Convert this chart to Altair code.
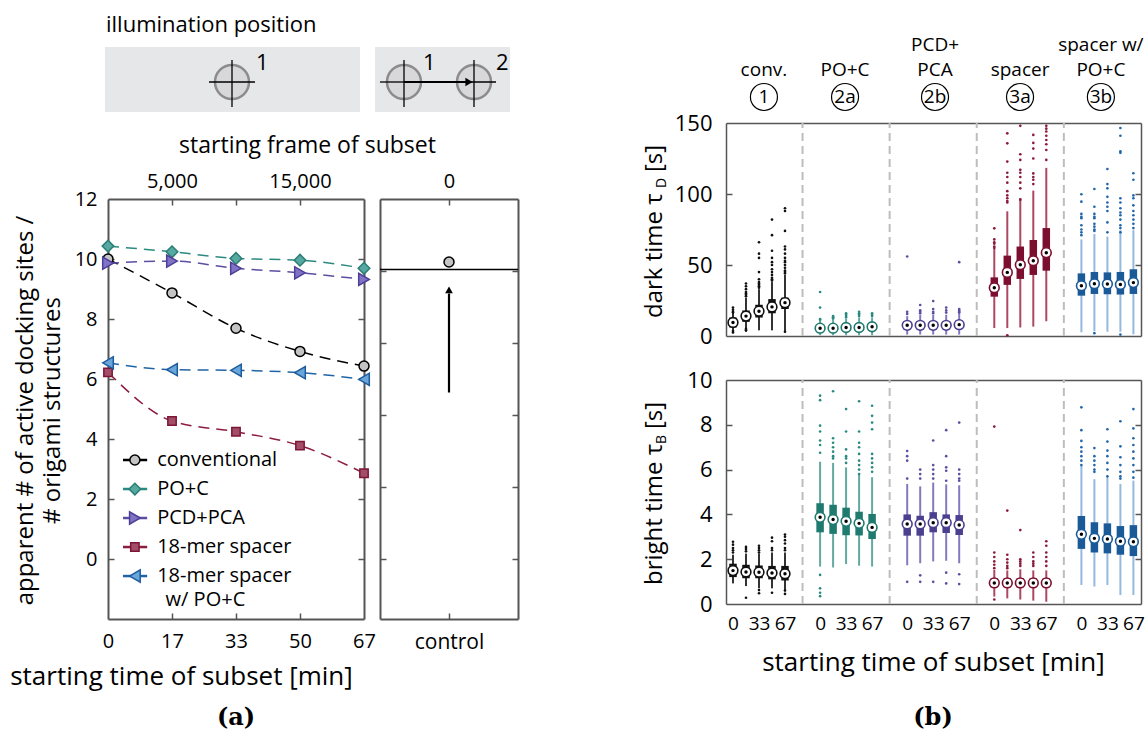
import altair as alt
import pandas as pd

W, H = 1148, 749
FONT = "Open Sans"
AXC = "#555555"

# ---------------- panel (a) data ----------------
minutes = [0, 16.67, 33.33, 50, 66.67]
minute_labels = ["0", "17", "33", "50", "67"]
frame_minutes = [16.67, 50]
frame_labels = ["5,000", "15,000"]

series_names = ["conventional", "PO+C", "PCD+PCA", "18-mer spacer", "18-mer spacer"]
series_second_line = ["", "", "", "", "w/ PO+C"]
sites_conventional = [10.0, 8.87, 7.69, 6.92, 6.43]
sites_poc = [10.43, 10.24, 10.02, 9.96, 9.69]
sites_pcdpca = [9.86, 9.93, 9.69, 9.54, 9.32]
sites_spacer = [6.22, 4.60, 4.24, 3.78, 2.86]
sites_spacer_poc = [6.54, 6.31, 6.29, 6.21, 5.99]

control_sites = 9.9
control_reference = 9.65
control_arrow = [5.55, 8.85]
control_ticks = [0, 2.4, 4.8, 7.2, 9.6]

# styles
line_colors = ["#000000", "#2b8a80", "#5a4ea3", "#8c1c40", "#2163a6"]
marker_fills = ["#c4c4c4", "#55a9a0", "#8072c6", "#a24e68", "#6aa6da"]
marker_strokes = ["#000000", "#2b7d75", "#4c3f95", "#7d1636", "#1d5c9c"]
marker_shapes = ["circle", "diamond", "triangle-right", "square", "triangle-left"]
marker_sizes = [100, 135, 150, 70, 150]

# ---------------- panel (b) data ----------------
group_titles_1 = ["", "", "PCD+", "", "spacer w/"]
group_titles_2 = ["conv.", "PO+C", "PCA", "spacer", "PO+C"]
group_ids = ["1", "2a", "2b", "3a", "3b"]
header_u = [2.38, 8.62, 15.54, 22.08, 28.3]
time_tick_labels = ["0", "33", "67"]

dark_med = [[9.5, 14.0, 17.5, 20.5, 23.5], [5.5, 5.5, 6, 6, 6.5], [7.5, 7.5, 7.5, 7.5, 8],
            [34, 44.8, 50.2, 53, 58.7], [35.4, 36.8, 36.6, 36.3, 37.6]]
dark_q1 = [[6, 10, 13, 16, 19], [3, 3, 3.5, 3.5, 3.5], [4.5, 4.5, 4.5, 4.5, 5],
           [27.7, 36, 40.2, 43, 46], [28.4, 29.6, 29.4, 29.2, 29.6]]
dark_q3 = [[13, 18, 22, 26, 27], [8, 8, 8.5, 8.5, 9], [10, 10, 10, 10, 11],
           [41.3, 56.6, 63, 67.6, 76], [44.1, 45.1, 44.8, 45.1, 47]]
dark_lo = [[2, 3, 4, 4, 3], [0.5, 0.5, 0.5, 0.5, 0.5], [1, 1, 1, 1, 1],
           [5.6, 5.6, 6, 6.6, 10.4], [2.6, 3.5, 3, 3, 1.2]]
dark_hi = [[19, 27, 33, 38, 43], [11, 12, 12, 13, 13], [14, 15, 15, 15, 16],
           [61.3, 87.8, 97.2, 102.4, 118.4], [68, 71.8, 70, 74.5, 74.5]]
dark_out = [
    [[20, 18.5, 17, 16.5, 3.5, 2.5], [28, 29, 30, 31, 33, 35, 37, 4, 5],
     [34, 35, 36, 37, 38, 40, 45, 55, 58, 66], [39, 40, 41, 43, 45, 47, 50, 52, 55, 60, 71, 82],
     [44, 45, 46, 48, 50, 52, 53, 55, 58, 61, 63, 74, 88, 90, 3]],
    [[31, 20, 12, 11.5], [13, 13.5, 12.5, 14], [13, 14, 15, 16], [14, 15, 16, 17], [14, 15, 16]],
    [[56, 17, 15.5], [21.8, 18, 17, 16], [24.6, 19, 17, 16], [20, 18, 16.5], [52, 19, 18, 17, 16.5]],
    [[75.8, 68, 66, 65, 63, 62], [142.7, 135.7, 122.8, 115, 112, 108, 102, 99, 97, 95, 94, 0.5],
     [148, 128, 124, 117, 115, 112, 108, 104, 96], [141.6, 136, 132, 125, 114.5, 112, 110, 107],
     [148, 146, 144, 141, 138, 135, 131, 124]],
    [[99.8, 94.6, 86, 84, 83, 78, 75, 73, 71], [103.5, 91, 86, 84, 83, 79, 77, 75, 74, 2],
     [117.6, 107, 104, 98, 94, 91, 88, 80, 73], [146.5, 141, 130, 129, 97, 94, 90, 87, 85, 82, 78, 76, 73, 1],
     [114.6, 110, 99, 97, 92, 88, 85, 82, 79, 76]],
]

bright_med = [[1.49, 1.43, 1.42, 1.38, 1.35], [3.87, 3.77, 3.69, 3.6, 3.42], [3.57, 3.57, 3.63, 3.63, 3.53],
              [0.94, 0.94, 0.94, 0.94, 0.94], [3.11, 2.93, 2.9, 2.8, 2.78]]
bright_q1 = [[1.2, 1.15, 1.15, 1.1, 1.05], [3.2, 3.13, 3.07, 3.06, 2.9], [3.05, 3.05, 3.2, 3.17, 3.08],
             [0.75, 0.75, 0.75, 0.75, 0.75], [2.46, 2.3, 2.26, 2.2, 2.14]]
bright_q3 = [[1.8, 1.75, 1.72, 1.7, 1.7], [4.5, 4.43, 4.3, 4.12, 4.02], [4.0, 3.94, 4.1, 4.0, 3.97],
             [1.15, 1.15, 1.15, 1.15, 1.15], [3.93, 3.65, 3.6, 3.48, 3.52]]
bright_lo = [[0.92, 0.8, 0.7, 0.7, 0.6], [1.67, 1.63, 1.78, 1.71, 1.67], [1.73, 1.82, 1.9, 1.93, 1.82],
             [0.33, 0.25, 0.2, 0.15, 0.1], [0.85, 0.78, 0.85, 0.4, 0.4]]
bright_hi = [[2.2, 2.25, 2.25, 2.3, 2.3], [6.35, 6.3, 6.1, 5.76, 5.66], [5.36, 5.25, 5.42, 5.34, 5.3],
             [1.52, 1.5, 1.55, 1.5, 1.5], [6.16, 5.57, 5.66, 5.36, 5.51]]
bright_out = [
    [[2.78, 2.65, 2.5, 2.4, 2.3], [0.28, 2.35, 2.45, 2.55], [0.62, 0.48, 2.3, 2.4, 2.5, 2.6],
     [0.5, 2.4, 2.5, 2.8, 2.96], [0.45, 0.6, 2.4, 2.5, 2.7, 2.85, 3.0, 3.1]],
    [[9.3, 9.1, 7.96, 7.7, 7.3, 7.1, 6.75, 1.3, 0.7, 0.5, 0.35], [9.5, 7.4, 7.2, 7.0, 6.8, 6.6, 6.5],
     [8.7, 7.7, 6.9, 6.6, 6.5, 6.3], [9.05, 7.7, 7.2, 7.0, 6.7, 6.4, 6.2, 6.0, 5.8],
     [8.85, 8.4, 8.1, 7.8, 6.7, 6.5, 6.3, 6.1, 5.9]],
    [[6.83, 6.6, 6.4, 5.6, 0.99], [6.0, 5.8, 5.6, 1.28, 0.99], [7.3, 6.2, 6.0, 5.8, 5.6, 0.99],
     [7.76, 6.6, 6.1, 5.95, 5.5, 1.4, 0.92], [8.1, 6.0, 5.8, 5.6, 5.5, 1.33, 0.89]],
    [[7.92, 2.3, 2.1, 1.9, 1.75, 1.6, 0.2], [4.17, 2.2, 2.0, 1.85, 1.7, 1.6], [3.3, 2.0, 1.9, 1.8, 1.7],
     [2.3, 2.1, 1.9, 1.8, 1.7], [2.8, 2.6, 2.3, 2.1, 1.9, 1.7]],
    [[8.78, 7.76, 7.28, 7.0, 6.8, 6.6, 6.4, 6.2], [6.96, 6.6, 6.4, 6.2, 6.0, 5.9],
     [7.8, 7.25, 6.85, 6.6, 6.3, 6.0, 5.7], [8.16, 7.04, 6.55, 6.2, 5.9, 5.7, 5.6],
     [8.7, 7.84, 7.4, 7.1, 6.8, 6.5, 6.2, 5.9, 5.64]],
]

box_colors = ["#111111", "#1f7a70", "#4b3f8f", "#7c0f30", "#1a5a99"]
whisker_colors = ["#333333", "#62a9a0", "#8579bd", "#ad4862", "#93b9de"]
outlier_colors = ["#111111", "#2a8a80", "#5b4fa0", "#8b1a3a", "#2266aa"]

# ---------------- helpers ----------------
def ax(orient, at, **kw):
    off = {"left": -at, "right": at - W, "top": -at, "bottom": at - H}[orient]
    d = dict(orient=orient, offset=off, grid=False, labels=False, ticks=False, domain=False,
             title=None, labelFlush=False, labelOverlap=False, labelBound=False,
             domainColor=AXC, tickColor=AXC, labelColor="black", labelFont=FONT,
             titleFont=FONT, titleColor="black", titleFontWeight="normal")
    d.update(kw)
    return alt.Axis(**d)


def sc(domain, rng):
    return alt.Scale(domain=domain, range=rng, nice=False, zero=False)


layers = []

# ---------------- schematic ----------------
sxs, sys_ = sc([0, 405], [105, 510]), sc([0, 65], [112, 47])
schem_boxes = pd.DataFrame({"x0": [0, 270], "x1": [255, 405], "y0": [0, 0], "y1": [65, 65]})
schem_spots = pd.DataFrame({"x": [127, 299, 369], "y": [30, 30, 30]})
schem_cross = pd.DataFrame({"x0": [104, 127, 275, 299, 352, 369], "x1": [150, 127, 299, 299, 391, 369],
                            "y0": [30, 5, 30, 5, 30, 5], "y1": [30, 52, 30, 52, 30, 52]})
schem_arrow = pd.DataFrame({"x0": [299], "x1": [361], "y": [30]})
schem_head = pd.DataFrame({"x": [364], "y": [30]})
schem_labels = pd.DataFrame({"x": [151, 318, 391], "y": [49, 49, 49], "t": ["1", "1", "2"]})
schem_title = pd.DataFrame({"x": [1], "y": [87], "t": ["illumination position"]})

layers.append(alt.Chart(schem_boxes).mark_rect(color="#e6e7e8").encode(
    x=alt.X("x0:Q", scale=sxs, axis=None), x2="x1:Q",
    y=alt.Y("y0:Q", scale=sys_, axis=None), y2="y1:Q"))
layers.append(alt.Chart(schem_spots).mark_point(shape="circle", filled=True, size=1156, fill="#d8d8da",
                                                stroke="#8c8c8c", strokeWidth=2.5, opacity=1).encode(
    x=alt.X("x:Q", scale=sxs, axis=None), y=alt.Y("y:Q", scale=sys_, axis=None)))
layers.append(alt.Chart(schem_cross).mark_rule(color="black", strokeWidth=1.3).encode(
    x=alt.X("x0:Q", scale=sxs, axis=None), x2="x1:Q",
    y=alt.Y("y0:Q", scale=sys_, axis=None), y2="y1:Q"))
layers.append(alt.Chart(schem_arrow).mark_rule(color="black", strokeWidth=2.2).encode(
    x=alt.X("x0:Q", scale=sxs, axis=None), x2="x1:Q", y=alt.Y("y:Q", scale=sys_, axis=None)))
layers.append(alt.Chart(schem_head).mark_point(shape="triangle-right", filled=True, size=70,
                                               color="black", opacity=1).encode(
    x=alt.X("x:Q", scale=sxs, axis=None), y=alt.Y("y:Q", scale=sys_, axis=None)))
layers.append(alt.Chart(schem_labels).mark_text(font=FONT, fontSize=22, align="left", baseline="middle").encode(
    x=alt.X("x:Q", scale=sxs, axis=None), y=alt.Y("y:Q", scale=sys_, axis=None), text="t:N"))
layers.append(alt.Chart(schem_title).mark_text(font=FONT, fontSize=22, align="left", baseline="middle").encode(
    x=alt.X("x:Q", scale=sxs, axis=None), y=alt.Y("y:Q", scale=sys_, axis=None), text="t:N"))

# ---------------- panel (a) main ----------------
sxa, sya = sc([0, 66.67], [108, 364]), sc([-2, 12], [619, 199])
all_sites = [sites_conventional, sites_poc, sites_pcdpca, sites_spacer, sites_spacer_poc]
rows = []
for i, vals in enumerate(all_sites):
    for m, v in zip(minutes, vals):
        rows.append(dict(series=i, minute=m, sites=v, lc=line_colors[i], fc=marker_fills[i],
                         stc=marker_strokes[i], shp=marker_shapes[i], msz=marker_sizes[i]))
df_a = pd.DataFrame(rows)

min_expr = " : ".join(f"datum.value < {m + 5} ? '{lab}'" for m, lab in zip(minutes[:-1], minute_labels[:-1]))
min_expr += f" : '{minute_labels[-1]}'"
frame_expr = f"datum.value < 30 ? '{frame_labels[0]}' : '{frame_labels[1]}'"
yvals_a = [0, 2, 4, 6, 8, 10, 12]
yticks_a = [0, 2, 4, 6, 8, 10]

layers.append(alt.Chart(df_a).mark_line(strokeDash=[11, 7], strokeWidth=1.5, interpolate="monotone").encode(
    x=alt.X("minute:Q", scale=sxa, axis=ax("bottom", 619, labels=True, domain=True, domainWidth=2,
                                           values=minutes, labelExpr=min_expr, labelFontSize=20,
                                           labelPadding=12, title="starting time of subset [min]",
                                           titleFontSize=26, titleX=181, titleY=57,
                                           titleAlign="center", titleBaseline="middle")),
    y=alt.Y("sites:Q", scale=sya, axis=ax("left", 108, labels=True, domain=True, domainWidth=2,
                                          values=yvals_a, labelFontSize=20, labelPadding=11,
                                          title=["apparent # of active docking sites /", "# origami structures"],
                                          titleFontSize=24, titleAngle=270, titleX=-83, titleY=410,
                                          titleAlign="center", titleBaseline="middle", titleLineHeight=27)),
    color=alt.Color("lc:N", scale=None), detail="series:N"))
layers.append(alt.Chart(df_a).mark_point(filled=True, strokeWidth=1.5, opacity=1).encode(
    x=alt.X("minute:Q", scale=sxa, axis=ax("top", 199, labels=True, domain=True, domainWidth=2,
                                           values=frame_minutes, labelExpr=frame_expr, labelFontSize=20,
                                           labelPadding=8, title="starting frame of subset",
                                           titleFontSize=23, titleX=307, titleY=-54,
                                           titleAlign="center", titleBaseline="middle")),
    y=alt.Y("sites:Q", scale=sya, axis=ax("left", 364, ticks=True, tickSize=6, tickWidth=1.5,
                                          domain=True, domainWidth=2, values=yticks_a)),
    fill=alt.Fill("fc:N", scale=None), stroke=alt.Stroke("stc:N", scale=None),
    shape=alt.Shape("shp:N", scale=None), size=alt.Size("msz:Q", scale=None)))

# legend (inside panel a)
leg_rows = []
for i in range(5):
    leg_rows.append(dict(y=3.3 - 0.967 * i, x0=3.9, x1=10.2, xs=7.0, xt=12.8, name=series_names[i],
                         lc=line_colors[i], fc=marker_fills[i], stc=marker_strokes[i],
                         shp=marker_shapes[i], msz=marker_sizes[i]))
df_leg = pd.DataFrame(leg_rows)
df_leg2 = pd.DataFrame({"x": [15.0], "y": [3.3 - 0.967 * 4 - 0.8], "t": [series_second_line[4]]})

layers.append(alt.Chart(df_leg).mark_rule(strokeWidth=2.5).encode(
    x=alt.X("x0:Q", scale=sxa, axis=ax("bottom", 199, ticks=True, tickSize=6, tickWidth=1.5,
                                       values=minutes[1:4])),
    x2="x1:Q",
    y=alt.Y("y:Q", scale=sya, axis=ax("right", 108, ticks=True, tickSize=6, tickWidth=1.5, values=yticks_a)),
    color=alt.Color("lc:N", scale=None)))
layers.append(alt.Chart(df_leg).mark_point(filled=True, strokeWidth=1.5, opacity=1).encode(
    x=alt.X("xs:Q", scale=sxa, axis=ax("top", 619, ticks=True, tickSize=6, tickWidth=1.5,
                                       values=minutes[1:4])),
    y=alt.Y("y:Q", scale=sya, axis=None),
    fill=alt.Fill("fc:N", scale=None), stroke=alt.Stroke("stc:N", scale=None),
    shape=alt.Shape("shp:N", scale=None), size=alt.Size("msz:Q", scale=None)))
layers.append(alt.Chart(df_leg).mark_text(font=FONT, fontSize=20, align="left", baseline="middle").encode(
    x=alt.X("xt:Q", scale=sxa, axis=None), y=alt.Y("y:Q", scale=sya, axis=None), text="name:N"))
layers.append(alt.Chart(df_leg2).mark_text(font=FONT, fontSize=20, align="left", baseline="middle").encode(
    x=alt.X("x:Q", scale=sxa, axis=None), y=alt.Y("y:Q", scale=sya, axis=None), text="t:N"))

# ---------------- panel (a) control ----------------
sxc = sc([-1, 1], [380, 518])
df_c_line = pd.DataFrame({"x0": [-1], "x1": [1], "y": [control_reference]})
df_c_pt = pd.DataFrame({"x": [0], "y": [control_sites]})
df_c_arrow = pd.DataFrame({"x": [0], "y0": [control_arrow[0]], "y1": [control_arrow[1]]})
df_c_head = pd.DataFrame({"x": [0], "y": [control_arrow[1] + 0.12]})

layers.append(alt.Chart(df_c_line).mark_rule(color="black", strokeWidth=1.5).encode(
    x=alt.X("x0:Q", scale=sxc, axis=ax("bottom", 619, labels=True, domain=True, domainWidth=2,
                                       values=[0], labelExpr="'control'", labelFontSize=21, labelPadding=12)),
    x2="x1:Q",
    y=alt.Y("y:Q", scale=sya, axis=ax("left", 380, domain=True, domainWidth=2, values=control_ticks))))
layers.append(alt.Chart(df_c_pt).mark_point(shape="circle", filled=True, size=100, fill="#c4c4c4",
                                            stroke="black", strokeWidth=1.5, opacity=1).encode(
    x=alt.X("x:Q", scale=sxc, axis=ax("top", 199, labels=True, domain=True, domainWidth=2,
                                      values=[0], labelExpr="'0'", labelFontSize=20, labelPadding=8)),
    y=alt.Y("y:Q", scale=sya, axis=ax("left", 518, ticks=True, tickSize=6, tickWidth=1.5, domain=True,
                                      domainWidth=2, values=control_ticks))))
layers.append(alt.Chart(df_c_arrow).mark_rule(color="black", strokeWidth=2.2).encode(
    x=alt.X("x:Q", scale=sxc, axis=ax("bottom", 199, ticks=True, tickSize=6, tickWidth=1.5, values=[0])),
    y=alt.Y("y0:Q", scale=sya, axis=ax("right", 380, ticks=True, tickSize=6, tickWidth=1.5,
                                       values=control_ticks)),
    y2="y1:Q"))
layers.append(alt.Chart(df_c_head).mark_point(shape="triangle-up", filled=True, size=60,
                                              color="black", opacity=1).encode(
    x=alt.X("x:Q", scale=sxc, axis=ax("top", 619, ticks=True, tickSize=6, tickWidth=1.5, values=[0])),
    y=alt.Y("y:Q", scale=sya, axis=None)))

# ---------------- panel (b) ----------------
STEP = 6.7
sxb = sc([-0.538, 31.385], [726, 1141])


def stats_frame(med, q1, q3, lo, hi):
    r = []
    for g in range(5):
        for t in range(5):
            r.append(dict(u=g * STEP + t, med=med[g][t], q1=q1[g][t], q3=q3[g][t], lo=lo[g][t],
                          hi=hi[g][t], bc=box_colors[g], wc=whisker_colors[g]))
    return pd.DataFrame(r)


def out_frame(out):
    r = []
    for g in range(5):
        for t in range(5):
            for v in out[g][t]:
                r.append(dict(u=g * STEP + t, v=v, oc=outlier_colors[g]))
    return pd.DataFrame(r)


def box_panel(stats, outl, ymax, yrange, yvals, yticks, bottom_axis):
    sy = sc([0, ymax], yrange)
    top_px = yrange[1]
    seps = pd.DataFrame({"u": [g * STEP - (STEP - 4) / 2 for g in range(1, 5)], "v0": [0] * 4,
                         "v1": [ymax] * 4})
    res = []
    res.append(alt.Chart(seps).mark_rule(strokeDash=[8, 5], strokeWidth=2, color="#bdbdbd").encode(
        x=alt.X("u:Q", scale=sxb, axis=bottom_axis),
        y=alt.Y("v0:Q", scale=sy, axis=ax("left", 726, labels=True, domain=True, domainWidth=1.5,
                                          values=yvals, labelFontSize=22, labelPadding=14)),
        y2="v1:Q"))
    res.append(alt.Chart(stats).mark_rule(strokeWidth=2).encode(
        x=alt.X("u:Q", scale=sxb, axis=ax("top", top_px, domain=True, domainWidth=1.5)),
        y=alt.Y("lo:Q", scale=sy, axis=ax("right", 726, ticks=True, tickSize=6, tickWidth=1.5, values=yticks)),
        y2="hi:Q", color=alt.Color("wc:N", scale=None)))
    res.append(alt.Chart(stats).mark_rule(strokeWidth=7.5, strokeCap="butt").encode(
        x=alt.X("u:Q", scale=sxb, axis=None),
        y=alt.Y("q1:Q", scale=sy, axis=ax("left", 1141, ticks=True, tickSize=6, tickWidth=1.5, domain=True,
                                          domainWidth=1.5, values=yticks)),
        y2="q3:Q", color=alt.Color("bc:N", scale=None)))
    res.append(alt.Chart(outl).mark_circle(size=7, opacity=1).encode(
        x=alt.X("u:Q", scale=sxb, axis=None), y=alt.Y("v:Q", scale=sy, axis=None),
        color=alt.Color("oc:N", scale=None)))
    res.append(alt.Chart(stats).mark_point(shape="circle", filled=True, size=95, strokeWidth=1.6,
                                           fill="white", opacity=1).encode(
        x=alt.X("u:Q", scale=sxb, axis=None), y=alt.Y("med:Q", scale=sy, axis=None),
        stroke=alt.Stroke("bc:N", scale=None)))
    res.append(alt.Chart(stats).mark_circle(size=12, color="black", opacity=1).encode(
        x=alt.X("u:Q", scale=sxb, axis=None), y=alt.Y("med:Q", scale=sy, axis=None)))
    return res


tick_u = [g * STEP + t for g in range(5) for t in (0, 2, 4)]
u_expr = (f"((datum.value + 0.5) % {STEP}) < 1.5 ? '{time_tick_labels[0]}' : "
          f"(((datum.value + 0.5) % {STEP}) < 3.5 ? '{time_tick_labels[1]}' : '{time_tick_labels[2]}')")

layers += box_panel(stats_frame(dark_med, dark_q1, dark_q3, dark_lo, dark_hi), out_frame(dark_out),
                    150, [336, 123], [0, 50, 100, 150], [50, 100],
                    ax("bottom", 336, domain=True, domainWidth=1.5))
layers += box_panel(stats_frame(bright_med, bright_q1, bright_q3, bright_lo, bright_hi), out_frame(bright_out),
                    10, [604, 380], [0, 2, 4, 6, 8, 10], [2, 4, 6, 8],
                    ax("bottom", 604, labels=True, domain=True, domainWidth=1.5, values=tick_u,
                       labelExpr=u_expr, labelFontSize=19, labelPadding=10,
                       title="starting time of subset [min]", titleFontSize=26, titleX=933, titleY=58,
                       titleAlign="center", titleBaseline="middle"))

# group headers
df_head = pd.DataFrame({"u": header_u, "t1": group_titles_1, "t2": group_titles_2, "id": group_ids})
layers.append(alt.Chart(df_head).mark_text(font=FONT, fontSize=19, baseline="middle").encode(
    x=alt.X("u:Q", scale=sxb, axis=None), y=alt.value(45), text="t1:N"))
layers.append(alt.Chart(df_head).mark_text(font=FONT, fontSize=19, baseline="middle").encode(
    x=alt.X("u:Q", scale=sxb, axis=None), y=alt.value(70), text="t2:N"))
layers.append(alt.Chart(df_head).mark_point(shape="circle", size=729, color="black", strokeWidth=1.2,
                                            opacity=1).encode(
    x=alt.X("u:Q", scale=sxb, axis=None), y=alt.value(97)))
layers.append(alt.Chart(df_head).mark_text(font=FONT, fontSize=19, baseline="middle").encode(
    x=alt.X("u:Q", scale=sxb, axis=None), y=alt.value(97), text="id:N"))


# y titles of panel (b) with subscripts
def ytitle(main, sub, unit, bottom, tau_end, sub_len):
    d = pd.DataFrame({"a": [main], "b": [sub], "c": [unit]})
    return [
        alt.Chart(d).mark_text(font=FONT, fontSize=24, angle=270, align="left", baseline="middle").encode(
            x=alt.value(655), y=alt.value(bottom), text="a:N"),
        alt.Chart(d).mark_text(font=FONT, fontSize=14, angle=270, align="left", baseline="middle").encode(
            x=alt.value(662), y=alt.value(tau_end), text="b:N"),
        alt.Chart(d).mark_text(font=FONT, fontSize=24, angle=270, align="left", baseline="middle").encode(
            x=alt.value(655), y=alt.value(tau_end - sub_len - 6), text="c:N"),
    ]


layers += ytitle("dark time τ", "D", "[s]", 318, 188, 10)
layers += ytitle("bright time τ", "B", "[s]", 585, 444, 9)

# captions
df_cap = pd.DataFrame({"t": ["(a)", "(b)"]})
layers.append(alt.Chart(df_cap.iloc[[0]]).mark_text(font="DejaVu Serif", fontWeight="bold", fontSize=24,
                                                    baseline="middle").encode(
    x=alt.value(236), y=alt.value(718), text="t:N"))
layers.append(alt.Chart(df_cap.iloc[[1]]).mark_text(font="DejaVu Serif", fontWeight="bold", fontSize=24,
                                                    baseline="middle").encode(
    x=alt.value(933), y=alt.value(718), text="t:N"))

chart = alt.layer(*layers).resolve_scale(x="independent", y="independent").properties(
    width=W, height=H, autosize=alt.AutoSizeParams(type="none"), padding=0, background="white"
).configure_view(stroke=None)

chart.save("out.html", embed_options={"renderer": "svg", "actions": False})
